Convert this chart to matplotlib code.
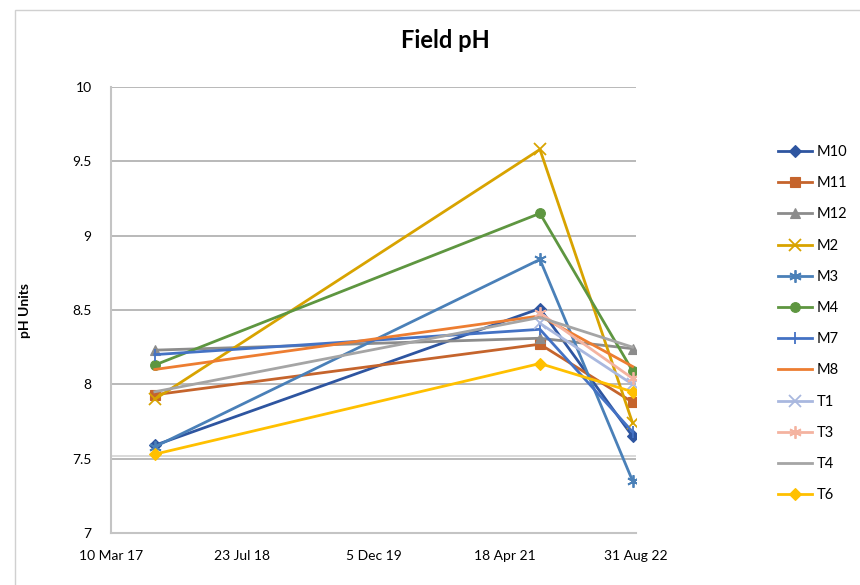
import datetime as dt

import matplotlib
matplotlib.use("Agg")
import matplotlib.pyplot as plt
from matplotlib.patches import Rectangle

plt.rcParams["font.family"] = ["Lato", "DejaVu Sans"]

# sample dates
dates = ["2017-08-24", "2021-08-30", "2022-08-18"]

series_names = ["M10", "M11", "M12", "M2", "M3", "M4",
                "M7", "M8", "T1", "T3", "T4", "T6"]

M10 = [7.59, 8.51, 7.65]
M11 = [7.93, 8.27, 7.88]
M12 = [8.23, 8.31, 8.24]
M2 = [7.90, 9.58, 7.74]
M3 = [7.58, 8.84, 7.35]
M4 = [8.13, 9.15, 8.09]
M7 = [8.20, 8.37, 7.68]
M8 = [8.10, 8.46, 8.12]
T1 = [None, 8.41, 8.00]
T3 = [None, 8.48, 8.04]
T4 = [7.95, 8.45, 8.25]
T6 = [7.53, 8.14, 7.95]

values = [M10, M11, M12, M2, M3, M4, M7, M8, T1, T3, T4, T6]

tick_dates = ["2017-03-10", "2018-07-23", "2019-12-05", "2021-04-18", "2022-08-31"]
tick_labels = ["10 Mar 17", "23 Jul 18", "5 Dec 19", "18 Apr 21", "31 Aug 22"]
y_ticks = [7, 7.5, 8, 8.5, 9, 9.5, 10]
ref_line = 7.52

colors = ["#2E55A0", "#C5642C", "#8C8C8C", "#D8A300", "#4A80B8", "#5E9640",
          "#4472C4", "#ED7D31", "#A9B8DF", "#F4B3A0", "#A5A5A5", "#FFC000"]
star = (6, 2, 0)  # asterisk like excel's star marker
markers = ["D", "s", "^", "x", star, "o", "|", None, "x", star, None, "D"]
msizes = [6, 7, 7, 8, 9, 7, 9, 0, 8, 9, 0, 6]

x = [dt.datetime.strptime(d, "%Y-%m-%d") for d in dates]
tx = [dt.datetime.strptime(d, "%Y-%m-%d") for d in tick_dates]

fig = plt.figure(figsize=(8.6, 5.85), dpi=100)
fig.patches.append(Rectangle((15 / 860, -0.1), 1.0, 1 - 10 / 585 + 0.1,
                             transform=fig.transFigure, fill=False,
                             edgecolor="#d0d0d0", linewidth=1))

ax = fig.add_axes([111 / 860, 1 - 533 / 585, 525 / 860, 446 / 585])

for yv in y_ticks[1:]:
    ax.axhline(yv, color="#a6a6a6", linewidth=1.1, zorder=0)
ax.axhline(ref_line, color="#cfcfcf", linewidth=1.1, zorder=0)

for name, vals, c, m, ms in zip(series_names, values, colors, markers, msizes):
    xs = [xi for xi, v in zip(x, vals) if v is not None]
    ys = [v for v in vals if v is not None]
    thin = m in ("x", "|") or isinstance(m, tuple)
    ax.plot(xs, ys, color=c, linewidth=2, marker=m, markersize=ms,
            markeredgewidth=1.3 if thin else 0.8,
            markeredgecolor=c, markerfacecolor=c, label=name)

ax.set_ylim(7, 10)
ax.set_yticks(y_ticks)
ax.set_yticklabels([f"{v:g}" for v in y_ticks])
ax.set_xlim(tx[0], tx[-1])
ax.set_xticks(tx)
ax.set_xticklabels(tick_labels)
ax.tick_params(axis="both", length=0, labelsize=10, colors="#000000")
ax.tick_params(axis="x", pad=12)
ax.tick_params(axis="y", pad=14)

for s in ["top", "right"]:
    ax.spines[s].set_visible(False)
for s in ["left", "bottom"]:
    ax.spines[s].set_color("#c4c4c4")
    ax.spines[s].set_linewidth(1.5)

ax.set_ylabel("pH Units", fontsize=10, fontweight="bold", labelpad=30)

fig.text(445 / 860, 1 - 40 / 585, "Field pH", fontsize=17, fontweight="bold",
         ha="center", va="center")

fig.legend(loc="upper left", bbox_to_anchor=(778 / 860, 1 - 145 / 585),
           frameon=False, fontsize=10.5, handlelength=2.35, labelspacing=1.18,
           handletextpad=0.3, borderpad=0, borderaxespad=0)

fig.savefig("out.png", dpi=100)
